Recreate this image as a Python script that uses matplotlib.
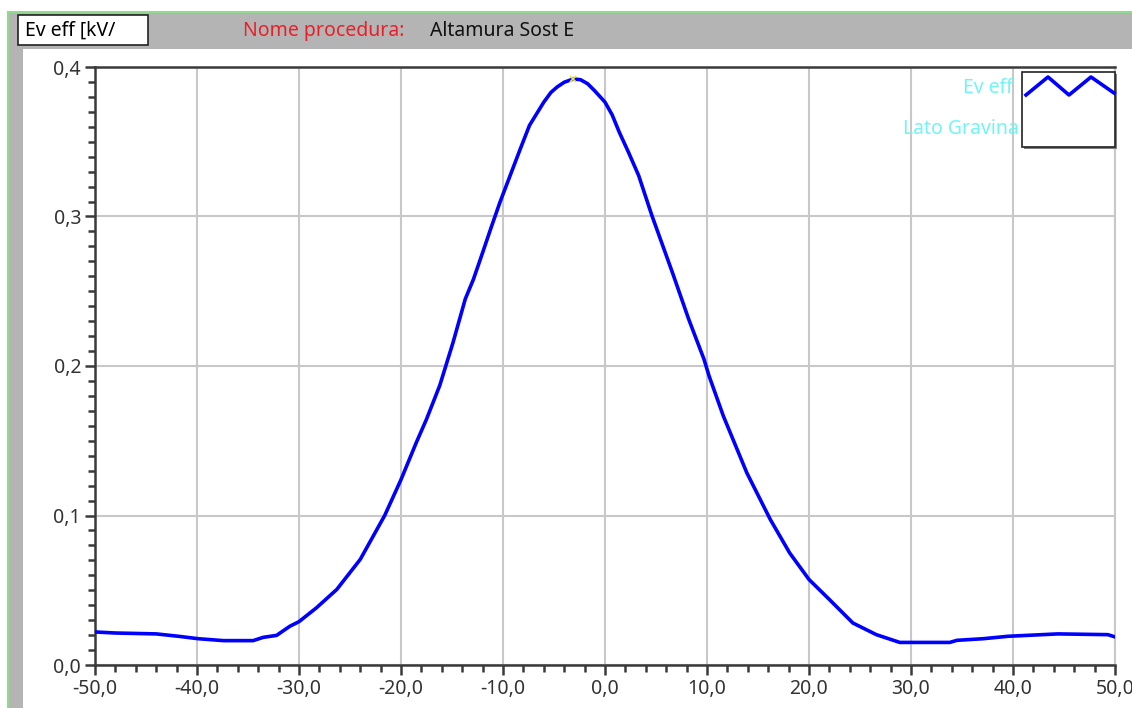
import matplotlib
matplotlib.use("Agg")
import matplotlib.pyplot as plt
from matplotlib.patches import Rectangle
from matplotlib.lines import Line2D
from matplotlib.ticker import MultipleLocator, FuncFormatter
import numpy as np

plt.rcParams['font.family'] = ['Noto Sans', 'DejaVu Sans']

# curve (distance vs Ev eff)
pos = [-50, -48, -44, -41.8, -39.9, -37.4, -34.5, -33.5, -32.2, -30.9,
       -30, -28.3, -26.3, -24.0, -21.6, -20, -18.5, -17.5, -16.2, -15.7,
       -14.9, -13.7, -12.9, -12.1, -11.1, -10.3, -9.3, -8.3, -7.4, -6.0,
       -5.3, -4.7, -4.0, -3.1, -2.4, -1.7, -1.0, 0, 0.7, 1.4,
       2.3, 3.3, 4.6, 6.6, 8.2, 9.7, 10.2, 11.6, 13.9, 16.2,
       18.1, 20, 22, 24.3, 26.6, 28.9, 33.8, 34.5, 37.1, 39.5,
       44.4, 49.3, 50]
ev_eff = [0.0221, 0.0214, 0.0208, 0.0192, 0.0176, 0.0163, 0.0163, 0.0185, 0.0198, 0.0259,
          0.0290, 0.0382, 0.0505, 0.0706, 0.100, 0.124, 0.1488, 0.1644, 0.187, 0.198,
          0.2157, 0.2448, 0.258, 0.2738, 0.2939, 0.3095, 0.3274, 0.3453, 0.361, 0.3765,
          0.383, 0.3866, 0.3898, 0.392, 0.3915, 0.3888, 0.384, 0.3765, 0.368, 0.3564,
          0.343, 0.3274, 0.3006, 0.2627, 0.2314, 0.2046, 0.1934, 0.1666, 0.1286, 0.0974,
          0.0750, 0.0572, 0.0438, 0.0281, 0.0203, 0.0151, 0.0151, 0.0165, 0.0176, 0.0192,
          0.0208, 0.0203, 0.0188]

y_label = "Ev eff [kV/"
proc_label = "Nome procedura:"
proc_name = "Altamura Sost E"
series_name = "Ev eff"
side_name = "Lato Gravina"

W, H = 1132, 708
fig = plt.figure(figsize=(W / 100, H / 100), dpi=100)
fig.patch.set_facecolor('white')

def fx(p):
    return p / W

def fy(p):
    return 1 - p / H

# window frame: gray header band, left gray strip, green border
fig.patches.append(Rectangle((fx(8), fy(708)), fx(15), 696 / H, transform=fig.transFigure,
                             facecolor='#b4b4b4', edgecolor='none', zorder=0))
fig.patches.append(Rectangle((fx(8), fy(49)), fx(W - 8), 37 / H, transform=fig.transFigure,
                             facecolor='#b4b4b4', edgecolor='none', zorder=0))
fig.lines.append(Line2D([fx(8), fx(8)], [fy(12), fy(708)], transform=fig.transFigure,
                        color='#8fdc8f', lw=1.5))
fig.lines.append(Line2D([fx(8), fx(W)], [fy(12), fy(12)], transform=fig.transFigure,
                        color='#8fdc8f', lw=1.5))

# y-axis name box
fig.patches.append(Rectangle((fx(18), fy(45)), fx(130), 30 / H, transform=fig.transFigure,
                             facecolor='white', edgecolor='#222222', lw=1.2, zorder=1))
fig.text(fx(25), fy(31), y_label, fontsize=14, color='black', va='center', ha='left')
fig.text(fx(243), fy(31), proc_label, fontsize=14, color='#e8202a', va='center', ha='left')
fig.text(fx(430), fy(31), proc_name, fontsize=14, color='#111111', va='center', ha='left')

ax = fig.add_axes([fx(95), fy(665), (1115 - 95) / W, (665 - 67) / H])
ax.plot(pos, ev_eff, color='#0000ff', lw=2.6, zorder=3)
i_max = int(np.argmax(ev_eff))
ax.plot(pos[i_max], ev_eff[i_max], 'x', color='#e6e63c', ms=5, mew=1.2, zorder=4)

ax.set_xlim(-50, 50)
ax.set_ylim(0, 0.4)
ax.xaxis.set_major_locator(MultipleLocator(10))
ax.xaxis.set_minor_locator(MultipleLocator(2))
ax.yaxis.set_major_locator(MultipleLocator(0.1))
ax.yaxis.set_minor_locator(MultipleLocator(0.01))
fmt = FuncFormatter(lambda v, p: f"{v:.1f}".replace('.', ','))
ax.xaxis.set_major_formatter(fmt)
ax.yaxis.set_major_formatter(fmt)

ax.grid(True, which='major', color='#c8c8c8', lw=1.5)
ax.set_axisbelow(True)
for s in ['left', 'bottom', 'top']:
    ax.spines[s].set_color('#3a3a3a')
    ax.spines[s].set_linewidth(1.8)
ax.spines['right'].set_color('#c8c8c8')
ax.spines['right'].set_linewidth(1.5)
ax.tick_params(which='major', direction='out', length=7, width=1.8, color='#3a3a3a',
               labelsize=14, labelcolor='#333333', pad=3)
ax.tick_params(which='minor', direction='out', length=5, width=1.8, color='#3a3a3a')
ax.tick_params(axis='y', which='both', right=False)
ax.tick_params(axis='x', which='both', top=False)

# legend box in the top-right corner
fig.patches.append(Rectangle((fx(1024), fy(149)), fx(93), 75 / H, transform=fig.transFigure,
                             facecolor='#808080', edgecolor='none', zorder=5))
fig.patches.append(Rectangle((fx(1022), fy(147)), fx(93), 75 / H, transform=fig.transFigure,
                             facecolor='white', edgecolor='#222222', lw=1.2, zorder=6))
zig_x = [1026, 1048, 1069, 1091, 1114]
zig_y = [95, 77, 95, 77, 93]
fig.lines.append(Line2D([fx(v) for v in zig_x], [fy(v) for v in zig_y],
                        transform=fig.transFigure, color='#0000ff', lw=2.6, zorder=7))
fig.text(fx(1013), fy(88), series_name, fontsize=14, color='#70f4f4', ha='right', va='center')
fig.text(fx(1019), fy(129), side_name, fontsize=14, color='#70f4f4', ha='right', va='center')

fig.savefig('out.png', dpi=100)
